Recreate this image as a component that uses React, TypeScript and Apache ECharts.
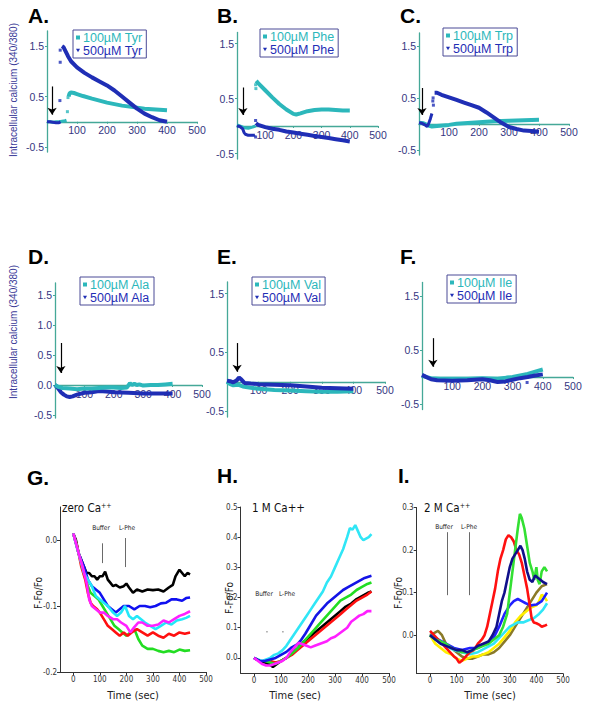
import React, { useEffect, useRef } from 'react';
import * as echarts from 'echarts';

type P = [number, number][];

// ---------- Panel A (Tyr) ----------
const tyr100Base: P = [[0,0.0],[10,0.0],[20,-0.01],[30,0.0],[40,0.0],[50,0.01],[60,0.02],[65,0.03]];
const tyr100: P = [[72,0.5],[75,0.56],[80,0.58],[90,0.57],[100,0.55],[120,0.51],[150,0.46],[175,0.42],[200,0.38],[225,0.35],[250,0.32],[275,0.3],[300,0.28],[325,0.26],[350,0.25],[375,0.24],[400,0.23]];
const tyr100Dots: P = [[68,0.2],[70,0.48]];
const tyr500Base: P = [[0,0.0],[10,0.0],[20,-0.01],[30,-0.02],[40,-0.02],[45,0.0]];
const tyr500: P = [[50,1.5],[55,1.48],[60,1.42],[70,1.3],[80,1.2],[100,1.08],[125,0.97],[150,0.88],[175,0.8],[200,0.72],[225,0.62],[250,0.5],[275,0.38],[300,0.26],[325,0.16],[350,0.09],[375,0.03],[400,0.0]];
const tyr500Dots: P = [[44,1.42],[44,1.18],[43,0.42]];
const arrowA = [17, 0.7, 0.14];

// ---------- Panel B (Phe) ----------
const phe100Base: P = [[0,0.02],[10,0.0],[25,-0.03],[40,-0.04],[55,-0.02],[65,0.0]];
const phe100: P = [[68,0.82],[75,0.78],[100,0.65],[125,0.52],[150,0.4],[175,0.3],[200,0.22],[210,0.21],[225,0.23],[250,0.27],[275,0.29],[300,0.3],[325,0.3],[350,0.29],[375,0.28],[400,0.28]];
const phe100Dots: P = [[67,0.68],[66,0.75]];
const phe500Base: P = [[0,0.0],[10,-0.01],[20,-0.05],[25,-0.12],[30,-0.15],[40,-0.17],[50,-0.17],[60,-0.17],[64,-0.16]];
const phe500: P = [[67,0.05],[75,0.02],[100,-0.02],[125,-0.05],[150,-0.07],[175,-0.1],[200,-0.12],[225,-0.14],[250,-0.16],[275,-0.18],[300,-0.2],[325,-0.22],[350,-0.24],[375,-0.26],[400,-0.28]];
const phe500Dots: P = [[66,-0.2],[66,0.1]];
const arrowB = [21, 0.7, 0.2];

// ---------- Panel C (Trp) ----------
const trp100: P = [[0,0.02],[15,0.01],[30,-0.03],[43,-0.05],[60,-0.04],[80,-0.03],[100,-0.02],[125,0.0],[150,0.01],[200,0.03],[250,0.05],[300,0.06],[350,0.07],[400,0.08]];
const trp500Base: P = [[0,0.02],[10,0.01],[20,-0.02],[27,-0.05],[32,0.0],[38,0.1],[43,0.2]];
const trp500: P = [[52,0.6],[60,0.6],[75,0.56],[100,0.51],[125,0.46],[150,0.41],[175,0.36],[200,0.31],[225,0.22],[250,0.12],[275,0.02],[300,-0.06],[325,-0.1],[350,-0.13],[375,-0.14],[400,-0.15]];
const trp500Dots: P = [[47,0.5],[46,0.44],[48,0.36]];
const arrowC = [10, 0.69, 0.17];

// ---------- Panel D (Ala) ----------
const ala100: P = [[0,0.0],[10,-0.03],[25,-0.05],[50,-0.06],[75,-0.07],[100,-0.06],[125,-0.06],[150,-0.05],[175,-0.04],[200,-0.04],[225,-0.05],[245,-0.04],[255,0.03],[262,0.0],[270,0.02],[278,0.0],[287,0.01],[300,-0.01],[325,0.0],[350,0.0],[375,0.01],[400,0.02]];
const ala500: P = [[0,0.0],[10,-0.05],[20,-0.12],[30,-0.16],[40,-0.19],[50,-0.2],[60,-0.19],[75,-0.16],[100,-0.13],[125,-0.12],[150,-0.1],[175,-0.11],[200,-0.12],[250,-0.13],[300,-0.14],[350,-0.14],[400,-0.14]];
const arrowD = [20, 0.7, 0.2];

// ---------- Panel E (Val) ----------
const val100: P = [[0,0.0],[10,-0.04],[20,-0.06],[35,-0.05],[50,-0.08],[75,-0.1],[100,-0.12],[150,-0.14],[200,-0.15],[250,-0.16],[300,-0.17],[350,-0.17],[400,-0.16]];
const val500: P = [[0,0.02],[10,0.01],[20,-0.01],[30,0.02],[38,0.07],[45,0.04],[55,-0.02],[75,-0.03],[100,-0.04],[150,-0.05],[200,-0.06],[250,-0.08],[300,-0.1],[350,-0.11],[400,-0.12]];
const arrowE = [32, 0.66, 0.17];

// ---------- Panel F (Ile) ----------
const ile100: P = [[0,0.03],[15,0.0],[30,-0.02],[60,-0.03],[100,-0.03],[150,-0.03],[200,-0.02],[250,-0.03],[280,-0.01],[300,0.0],[325,0.03],[350,0.06],[375,0.1],[400,0.14]];
const ile500: P = [[0,0.04],[15,0.0],[30,-0.04],[50,-0.06],[100,-0.07],[150,-0.06],[200,-0.04],[225,-0.06],[250,-0.09],[275,-0.08],[300,-0.05],[325,-0.02],[350,0.0],[375,0.03],[400,0.05]];
const ile500Dots: P = [[348,-0.1]];
const arrowF = [36, 0.72, 0.19];

// ---------- Panel G (zero Ca++) ----------
const gBlack: P = [[0,0.01],[10,0.0],[20,-0.02],[30,-0.03],[40,-0.04],[50,-0.05],[60,-0.05],[70,-0.055],[80,-0.055],[90,-0.06],[100,-0.055],[110,-0.055],[120,-0.048],[130,-0.06],[140,-0.065],[150,-0.07],[160,-0.068],[175,-0.072],[190,-0.07],[200,-0.066],[210,-0.072],[225,-0.08],[240,-0.075],[260,-0.078],[280,-0.075],[300,-0.076],[320,-0.075],[340,-0.078],[360,-0.072],[375,-0.068],[385,-0.055],[400,-0.045],[410,-0.05],[420,-0.055],[430,-0.05],[440,-0.052]];
const gBlue: P = [[0,0.01],[20,-0.02],[40,-0.04],[55,-0.06],[70,-0.07],[85,-0.075],[100,-0.08],[115,-0.09],[130,-0.1],[145,-0.105],[160,-0.11],[175,-0.105],[190,-0.1],[210,-0.1],[230,-0.105],[250,-0.1],[270,-0.1],[290,-0.102],[310,-0.1],[330,-0.096],[350,-0.095],[370,-0.09],[390,-0.09],[410,-0.092],[425,-0.088],[440,-0.087]];
const gCyan: P = [[0,0.01],[20,-0.02],[40,-0.05],[55,-0.06],[70,-0.07],[85,-0.085],[100,-0.09],[115,-0.095],[130,-0.1],[150,-0.11],[165,-0.115],[180,-0.11],[195,-0.1],[210,-0.115],[225,-0.12],[240,-0.115],[255,-0.12],[270,-0.125],[290,-0.13],[310,-0.135],[330,-0.13],[350,-0.125],[370,-0.128],[390,-0.122],[410,-0.12],[425,-0.118],[440,-0.115]];
const gMagenta: P = [[0,0.01],[20,-0.02],[35,-0.04],[50,-0.065],[60,-0.09],[70,-0.1],[85,-0.105],[100,-0.11],[115,-0.11],[130,-0.115],[150,-0.12],[165,-0.12],[180,-0.125],[200,-0.13],[215,-0.14],[230,-0.132],[245,-0.125],[260,-0.125],[280,-0.13],[300,-0.13],[320,-0.128],[340,-0.122],[360,-0.125],[380,-0.12],[400,-0.115],[420,-0.112],[440,-0.108]];
const gRed: P = [[0,0.01],[15,-0.01],[30,-0.04],[45,-0.06],[55,-0.08],[65,-0.095],[75,-0.1],[90,-0.105],[100,-0.11],[115,-0.12],[130,-0.13],[145,-0.135],[160,-0.14],[175,-0.145],[190,-0.14],[205,-0.145],[220,-0.14],[240,-0.135],[260,-0.14],[280,-0.145],[300,-0.14],[320,-0.145],[340,-0.148],[360,-0.142],[380,-0.145],[400,-0.14],[420,-0.142],[440,-0.14]];
const gGreen: P = [[0,0.01],[20,-0.02],[40,-0.05],[55,-0.07],[65,-0.08],[80,-0.085],[95,-0.09],[110,-0.1],[125,-0.11],[140,-0.12],[155,-0.13],[170,-0.135],[185,-0.14],[200,-0.145],[215,-0.14],[230,-0.135],[245,-0.15],[260,-0.16],[280,-0.165],[300,-0.165],[320,-0.168],[340,-0.17],[360,-0.168],[380,-0.17],[400,-0.166],[420,-0.168],[440,-0.167]];
const gBufferLine = [109, -0.005, -0.035];
const gPheLine = [196, 0.003, -0.041];

// ---------- Panel H (1 M Ca++) ----------
const hCyan: P = [[0,0.0],[15,-0.005],[30,-0.01],[45,-0.005],[60,0.0],[75,0.01],[90,0.015],[105,0.025],[120,0.04],[135,0.06],[150,0.08],[165,0.1],[180,0.12],[195,0.14],[210,0.16],[225,0.18],[240,0.2],[255,0.22],[270,0.25],[285,0.27],[300,0.3],[315,0.33],[330,0.36],[345,0.4],[355,0.43],[365,0.425],[375,0.44],[385,0.42],[395,0.4],[405,0.39],[415,0.395],[425,0.4],[435,0.41]];
const hBlue: P = [[0,0.0],[20,-0.01],[40,-0.01],[60,-0.005],[80,0.0],[100,0.01],[120,0.02],[140,0.035],[160,0.045],[175,0.06],[190,0.08],[210,0.11],[230,0.14],[250,0.16],[270,0.18],[290,0.195],[310,0.21],[330,0.225],[350,0.235],[370,0.245],[390,0.255],[410,0.265],[435,0.272]];
const hGreen: P = [[40,-0.01],[60,-0.015],[80,-0.02],[100,-0.01],[120,0.0],[140,0.015],[160,0.03],[180,0.05],[200,0.07],[220,0.09],[240,0.11],[260,0.13],[280,0.15],[300,0.17],[320,0.19],[340,0.2],[360,0.21],[380,0.225],[400,0.235],[420,0.245],[435,0.25]];
const hBlack: P = [[0,0.0],[20,-0.01],[40,-0.015],[55,-0.02],[70,-0.03],[85,-0.02],[100,-0.01],[120,0.0],[140,0.015],[160,0.03],[180,0.05],[200,0.065],[220,0.08],[240,0.095],[260,0.11],[280,0.125],[300,0.14],[320,0.155],[340,0.17],[360,0.18],[380,0.195],[400,0.205],[420,0.215],[435,0.22]];
const hRed: P = [[60,-0.01],[80,-0.015],[100,-0.01],[120,0.0],[140,0.01],[160,0.025],[180,0.04],[200,0.055],[220,0.07],[240,0.085],[260,0.1],[280,0.115],[300,0.13],[320,0.145],[340,0.16],[360,0.175],[380,0.19],[400,0.2],[420,0.21],[435,0.22]];
const hMagenta: P = [[0,0.0],[15,-0.01],[30,-0.02],[45,-0.025],[60,-0.025],[75,-0.02],[90,-0.015],[105,-0.01],[120,0.0],[135,0.02],[150,0.035],[165,0.05],[180,0.045],[195,0.04],[210,0.035],[225,0.04],[240,0.045],[255,0.05],[270,0.055],[285,0.065],[300,0.07],[315,0.08],[330,0.09],[345,0.1],[360,0.12],[375,0.13],[390,0.14],[405,0.145],[420,0.155],[435,0.155]];
const hMarks: P = [[48,0.087],[107,0.087]];

// ---------- Panel I (2 M Ca++) ----------
const iRed: P = [[0,0.01],[15,0.0],[30,-0.01],[45,-0.02],[60,-0.03],[75,-0.04],[90,-0.05],[100,-0.055],[110,-0.065],[120,-0.06],[135,-0.05],[150,-0.04],[165,-0.035],[180,-0.02],[195,-0.01],[205,0.0],[215,0.02],[225,0.05],[235,0.08],[245,0.11],[255,0.15],[265,0.18],[275,0.2],[285,0.225],[295,0.235],[305,0.23],[315,0.22],[325,0.2],[335,0.19],[345,0.17],[355,0.14],[365,0.11],[375,0.07],[382,0.04],[390,0.03],[400,0.028],[410,0.025],[420,0.02],[430,0.022],[440,0.025]];
const iGreen: P = [[0,0.0],[20,-0.01],[40,-0.015],[60,-0.02],[80,-0.03],[100,-0.035],[120,-0.04],[140,-0.04],[160,-0.035],[180,-0.03],[200,-0.025],[220,-0.02],[240,-0.01],[260,0.0],[275,0.02],[290,0.05],[300,0.1],[310,0.15],[320,0.2],[330,0.25],[338,0.285],[345,0.275],[355,0.25],[365,0.21],[375,0.17],[385,0.15],[392,0.13],[400,0.16],[405,0.13],[412,0.12],[420,0.15],[430,0.16],[440,0.15]];
const iNavy: P = [[0,0.0],[20,-0.01],[40,-0.02],[60,-0.025],[80,-0.03],[100,-0.035],[120,-0.035],[140,-0.04],[160,-0.035],[180,-0.025],[200,-0.02],[220,-0.015],[235,0.0],[250,0.02],[260,0.05],[270,0.08],[280,0.1],[290,0.13],[300,0.16],[310,0.18],[320,0.19],[330,0.2],[340,0.21],[348,0.2],[356,0.18],[365,0.15],[375,0.13],[385,0.125],[395,0.14],[405,0.135],[415,0.13],[425,0.125],[440,0.12]];
const iBlue: P = [[0,0.0],[30,-0.01],[60,-0.02],[90,-0.03],[120,-0.035],[150,-0.03],[180,-0.03],[210,-0.02],[240,-0.005],[260,0.02],[280,0.05],[300,0.07],[315,0.08],[330,0.085],[345,0.08],[360,0.075],[380,0.07],[400,0.072],[420,0.08],[440,0.1]];
const iCyan: P = [[0,0.0],[30,-0.015],[60,-0.025],[90,-0.035],[120,-0.04],[150,-0.045],[180,-0.04],[210,-0.03],[240,-0.02],[270,0.0],[300,0.02],[330,0.03],[350,0.03],[370,0.035],[390,0.04],[410,0.05],[425,0.06],[440,0.075]];
const iYellow: P = [[0,0.0],[20,-0.02],[40,-0.03],[60,-0.04],[80,-0.045],[100,-0.055],[120,-0.06],[140,-0.055],[160,-0.05],[180,-0.05],[200,-0.045],[220,-0.04],[240,-0.03],[260,-0.02],[280,-0.005],[300,0.01],[320,0.03],[340,0.045],[360,0.055],[380,0.065],[400,0.07],[410,0.08],[420,0.095],[430,0.09],[440,0.08]];
const iOlive: P = [[0,0.0],[15,0.005],[30,0.01],[45,0.0],[60,-0.02],[80,-0.03],[100,-0.04],[120,-0.05],[140,-0.055],[160,-0.055],[180,-0.05],[200,-0.045],[220,-0.045],[240,-0.04],[260,-0.03],[280,-0.015],[300,0.0],[320,0.02],[340,0.04],[360,0.06],[380,0.08],[400,0.1],[420,0.115],[440,0.12]];
const iBufferLine = [64, 0.242, 0.094];
const iPheLine = [147, 0.242, 0.094];

const topXTicks = [100, 200, 300, 400, 500];
const bottomXTicks = [0, 100, 200, 300, 400, 500];

// ---------- styles ----------
const FONT = '"Liberation Sans", Arial, Helvetica, sans-serif';
const NARROW = '"Liberation Sans Narrow", "Arial Narrow", "DejaVu Sans Condensed", "Liberation Sans", sans-serif';
const TEAL = '#45a898';
const NAVY = '#35357f';
const CYAN = '#2cb7bb';
const BLUE = '#1f2eb5';
const TRI = 'path://M0,0L10,0L5,9Z';

const topPanels = [
  { letter: 'A.', lx: 28, ly: 15, grid: { left: 47, top: 31, width: 150, height: 121 }, ymin: -0.6, ymax: 1.8, yTicks: [-0.5, 0.5, 1.5], leg: { left: 73, top: 30 }, n100: '100µM Tyr', n500: '500µM Tyr', l100: tyr100, b100: tyr100Base, d100: tyr100Dots, l500: tyr500, b500: tyr500Base, d500: tyr500Dots, arrow: arrowA },
  { letter: 'B.', lx: 217, ly: 15, grid: { left: 237, top: 32.5, width: 141, height: 126.5 }, ymin: -0.6, ymax: 1.7, yTicks: [-0.5, 0.5, 1.5], leg: { left: 260, top: 29 }, n100: '100µM Phe', n500: '500µM Phe', l100: phe100, b100: phe100Base, d100: phe100Dots, l500: phe500, b500: phe500Base, d500: phe500Dots, arrow: arrowB },
  { letter: 'C.', lx: 400, ly: 15, grid: { left: 419, top: 33, width: 150, height: 122 }, ymin: -0.6, ymax: 1.75, yTicks: [-0.5, 0.5, 1.5], leg: { left: 443, top: 28 }, n100: '100µM Trp', n500: '500µM Trp', l100: trp100, b100: null, d100: null, l500: trp500, b500: trp500Base, d500: trp500Dots, arrow: arrowC },
  { letter: 'D.', lx: 28, ly: 256, grid: { left: 55, top: 283, width: 147, height: 135 }, ymin: -0.55, ymax: 1.7, yTicks: [-0.5, 0, 0.5, 1, 1.5], leg: { left: 80, top: 277 }, n100: '100µM Ala', n500: '500µM Ala', l100: ala100, b100: null, d100: null, l500: ala500, b500: null, d500: null, arrow: arrowD },
  { letter: 'E.', lx: 217, ly: 256, grid: { left: 227, top: 282, width: 158, height: 135 }, ymin: -0.6, ymax: 1.7, yTicks: [-0.5, 0.5, 1.5], leg: { left: 252, top: 277 }, n100: '100µM Val', n500: '500µM Val', l100: val100, b100: null, d100: null, l500: val500, b500: null, d500: null, arrow: arrowE },
  { letter: 'F.', lx: 400, ly: 256, grid: { left: 422, top: 282.5, width: 151, height: 127 }, ymin: -0.6, ymax: 1.75, yTicks: [-0.5, 0.5, 1.5], leg: { left: 447, top: 275 }, n100: '100µM Ile', n500: '500µM Ile', l100: ile100, b100: null, d100: null, l500: ile500, b500: null, d500: ile500Dots, arrow: arrowF },
];

const bottomPanels = [
  { letter: 'G.', lx: 27, ly: 477, grid: { left: 60, top: 507, width: 146, height: 165 }, ymin: -0.2, ymax: 0.05, yTicks: [-0.2, -0.1, 0],
    lines: [[gBlack, '#000000'], [gBlue, '#1010f0'], [gGreen, '#22dd22'], [gRed, '#ff1010'], [gCyan, '#22e8f8'], [gMagenta, '#ff20ff']],
    vlines: [gBufferLine, gPheLine] },
  { letter: 'H.', lx: 217, ly: 475, grid: { left: 240.5, top: 507, width: 148.5, height: 166 }, ymin: -0.05, ymax: 0.5, yTicks: [0, 0.1, 0.2, 0.3, 0.4, 0.5],
    lines: [[hCyan, '#30e6f6'], [hBlack, '#000000'], [hRed, '#ff1010'], [hGreen, '#22dd22'], [hBlue, '#1414e6'], [hMagenta, '#ff20ff']],
    vlines: [] },
  { letter: 'I.', lx: 398, ly: 475, grid: { left: 416.7, top: 507.5, width: 146.3, height: 166 }, ymin: -0.09, ymax: 0.3, yTicks: [0, 0.1, 0.2, 0.3],
    lines: [[iOlive, '#8a7a28'], [iYellow, '#ffee00'], [iCyan, '#30e6f6'], [iBlue, '#2020ff'], [iRed, '#ff1010'], [iGreen, '#33e033'], [iNavy, '#10108a']],
    vlines: [iBufferLine, iPheLine] },
];

function buildOption() {
  const grid: any[] = [];
  const xAxis: any[] = [];
  const yAxis: any[] = [];
  const series: any[] = [];
  const legend: any[] = [];
  const graphic: any[] = [];

  const lineSeries = (name: string, data: P, color: string, idx: number, width: number, extra: any = {}) => ({
    type: 'line', name, data, xAxisIndex: idx, yAxisIndex: idx, symbol: 'none', showSymbol: false,
    lineStyle: { color, width }, itemStyle: { color }, silent: true, ...extra,
  });
  const dotSeries = (name: string, data: P, color: string, idx: number, size = 3) => ({
    type: 'scatter', name, data, xAxisIndex: idx, yAxisIndex: idx, symbol: 'rect', symbolSize: size,
    itemStyle: { color }, silent: true,
  });
  const arrowMark = (a: number[]) => ({
    silent: true, symbol: ['none', 'arrow'], symbolSize: 7, label: { show: false },
    lineStyle: { color: '#000', width: 1.2, type: 'solid' },
    data: [[{ coord: [a[0], a[1]] }, { coord: [a[0], a[2]] }]],
  });

  topPanels.forEach((p, i) => {
    grid.push({ ...p.grid, containLabel: false });
    // place the x axis (line + labels) at y = 0
    const zeroOffset = -((0 - p.ymin) / (p.ymax - p.ymin)) * p.grid.height;
    xAxis.push({
      type: 'value', gridIndex: i, min: 0, max: 500, position: 'bottom', offset: zeroOffset,
      axisLine: { show: true, onZero: false, lineStyle: { color: TEAL, width: 1.3 } },
      axisTick: { show: true, length: 2, customValues: topXTicks, lineStyle: { color: TEAL } },
      axisLabel: { customValues: topXTicks, color: NAVY, fontSize: 10.5, fontFamily: FONT, margin: 3 },
      splitLine: { show: false },
    });
    yAxis.push({
      type: 'value', gridIndex: i, min: p.ymin, max: p.ymax,
      axisLine: { show: true, onZero: false, lineStyle: { color: TEAL, width: 1.3 } },
      axisTick: { show: true, length: 2, customValues: p.yTicks, lineStyle: { color: TEAL } },
      axisLabel: { customValues: p.yTicks, color: NAVY, fontSize: 10.5, fontFamily: FONT, margin: 3, formatter: (v: number) => v.toFixed(1) },
      splitLine: { show: false },
    });
    const s100 = lineSeries(p.n100, p.l100, CYAN, i, 4);
    const s500 = lineSeries(p.n500, p.l500, BLUE, i, 4);
    const order = p.letter === 'D.' ? [s500, s100] : [s100, s500];
    series.push(...order);
    if (p.b100) series.push(lineSeries(p.letter + 'b100', p.b100, CYAN, i, 3));
    if (p.b500) series.push(lineSeries(p.letter + 'b500', p.b500, BLUE, i, 3));
    if (p.d100) series.push(dotSeries(p.letter + 'd100', p.d100, CYAN, i));
    if (p.d500) series.push(dotSeries(p.letter + 'd500', p.d500, BLUE, i));
    series.push({ type: 'line', name: p.letter + 'arrow', data: [], xAxisIndex: i, yAxisIndex: i, markLine: arrowMark(p.arrow) });

    legend.push({
      left: p.leg.left, top: p.leg.top, orient: 'vertical', selectedMode: false,
      padding: [1, 4, 1, 3], itemGap: 0, itemWidth: 4, itemHeight: 4,
      borderColor: '#4a4a96', borderWidth: 1, backgroundColor: '#fff',
      textStyle: { fontSize: 12.5, fontFamily: FONT, padding: [0, 0, 0, -2] },
      data: [
        { name: p.n100, icon: 'rect', textStyle: { color: CYAN } },
        { name: p.n500, icon: TRI, textStyle: { color: BLUE } },
      ],
    });
    graphic.push({ type: 'text', x: p.lx, y: p.ly, silent: true, style: { text: p.letter, fontSize: 21, fontWeight: 'bold', fontFamily: FONT, fill: '#000', textVerticalAlign: 'middle' } });
  });

  bottomPanels.forEach((p, j) => {
    const i = topPanels.length + j;
    grid.push({ ...p.grid, containLabel: false });
    xAxis.push({
      type: 'value', gridIndex: i, min: -50, max: 500,
      axisLine: { show: true, onZero: false, lineStyle: { color: '#333', width: 1 } },
      axisTick: { show: true, length: 3, customValues: bottomXTicks, lineStyle: { color: '#333' } },
      axisLabel: { customValues: bottomXTicks, color: '#333', fontSize: 8, fontFamily: NARROW, margin: 3 },
      splitLine: { show: false },
    });
    yAxis.push({
      type: 'value', gridIndex: i, min: p.ymin, max: p.ymax,
      axisLine: { show: true, onZero: false, lineStyle: { color: '#333', width: 1 } },
      axisTick: { show: true, length: 3, customValues: p.yTicks, lineStyle: { color: '#333' } },
      axisLabel: { customValues: p.yTicks, color: '#333', fontSize: 8, fontFamily: NARROW, margin: 3, formatter: (v: number) => v.toFixed(1) },
      splitLine: { show: false },
    });
    p.lines.forEach((l: any, k: number) => {
      series.push(lineSeries(p.letter + 's' + k, l[0], l[1], i, 2.6));
    });
    if (p.vlines.length) {
      series.push({
        type: 'line', name: p.letter + 'vl', data: [], xAxisIndex: i, yAxisIndex: i,
        markLine: {
          silent: true, symbol: ['none', 'none'], label: { show: false },
          lineStyle: { color: '#444', width: 0.8, type: 'solid' },
          data: p.vlines.map((v: number[]) => [{ coord: [v[0], v[1]] }, { coord: [v[0], v[2]] }]),
        },
      });
    }
    graphic.push({ type: 'text', x: p.lx, y: p.ly, silent: true, style: { text: p.letter, fontSize: 21, fontWeight: 'bold', fontFamily: FONT, fill: '#000', textVerticalAlign: 'middle' } });
  });

  // H small marks
  series.push(dotSeries('Hmarks', hMarks, '#888', topPanels.length + 1, 1.5));

  // y-axis titles for top rows
  const ylab = (x: number, y: number) => ({
    type: 'text', x, y, rotation: Math.PI / 2, silent: true,
    style: { text: 'Intracellular calcium (340/380)', fontSize: 10, fontFamily: FONT, fill: '#3a3a98', textAlign: 'center', textVerticalAlign: 'middle' },
  });
  graphic.push(ylab(13, 90), ylab(13, 332));

  // bottom panel annotations
  const small = (text: string, x: number, y: number) => ({
    type: 'text', x, y, silent: true,
    style: { text, fontSize: 6.5, fontFamily: NARROW, fill: '#222', textAlign: 'center', textVerticalAlign: 'middle' },
  });
  graphic.push(small('Buffer', 101, 528), small('L-Phe', 127, 528));
  graphic.push(small('Buffer', 264, 594), small('L-Phe', 287, 594));
  graphic.push(small('Buffer', 444, 527), small('L-Phe', 469, 527));

  const fy = (x: number, y: number) => ({
    type: 'text', x, y, rotation: Math.PI / 2, silent: true,
    style: { text: 'F-Fo/Fo', fontSize: 10, fontFamily: NARROW, fill: '#222', textAlign: 'center', textVerticalAlign: 'middle' },
  });
  graphic.push(fy(38, 593), fy(229, 598), fy(398, 593));

  const tx = (x: number) => ({
    type: 'text', x, y: 695, silent: true,
    style: { text: 'Time (sec)', fontSize: 11, fontFamily: NARROW, fill: '#222', textAlign: 'center', textVerticalAlign: 'middle' },
  });
  graphic.push(tx(133), tx(295), tx(490));

  const ttl = (x: number, y: number, main: string, sup: string) => ({
    type: 'text', x, y, silent: true,
    style: {
      text: sup ? `{a|${main}}{b|${sup}}` : `{a|${main}}`,
      rich: { a: { fontSize: 11.5, fontFamily: NARROW, fill: '#111', color: '#111' }, b: { fontSize: 7, fontFamily: NARROW, fill: '#111', color: '#111', verticalAlign: 'top' } },
      textVerticalAlign: 'middle',
    },
  });
  graphic.push(ttl(62, 508, 'zero Ca', '++'), ttl(252, 508, '1 M Ca++', ''), ttl(424, 508, '2 M Ca', '++'));

  return {
    animation: false,
    backgroundColor: '#ffffff',
    textStyle: { fontFamily: FONT },
    grid, xAxis, yAxis, series, legend, graphic,
  };
}

export default function App() {
  const ref = useRef<HTMLDivElement>(null);
  useEffect(() => {
    const chart = echarts.init(ref.current!, null, { renderer: 'svg' });
    chart.setOption(buildOption() as any);
    return () => chart.dispose();
  }, []);
  return <div ref={ref} style={{ position: 'absolute', left: 0, top: 0, width: 590, height: 708, background: '#fff' }} />;
}
